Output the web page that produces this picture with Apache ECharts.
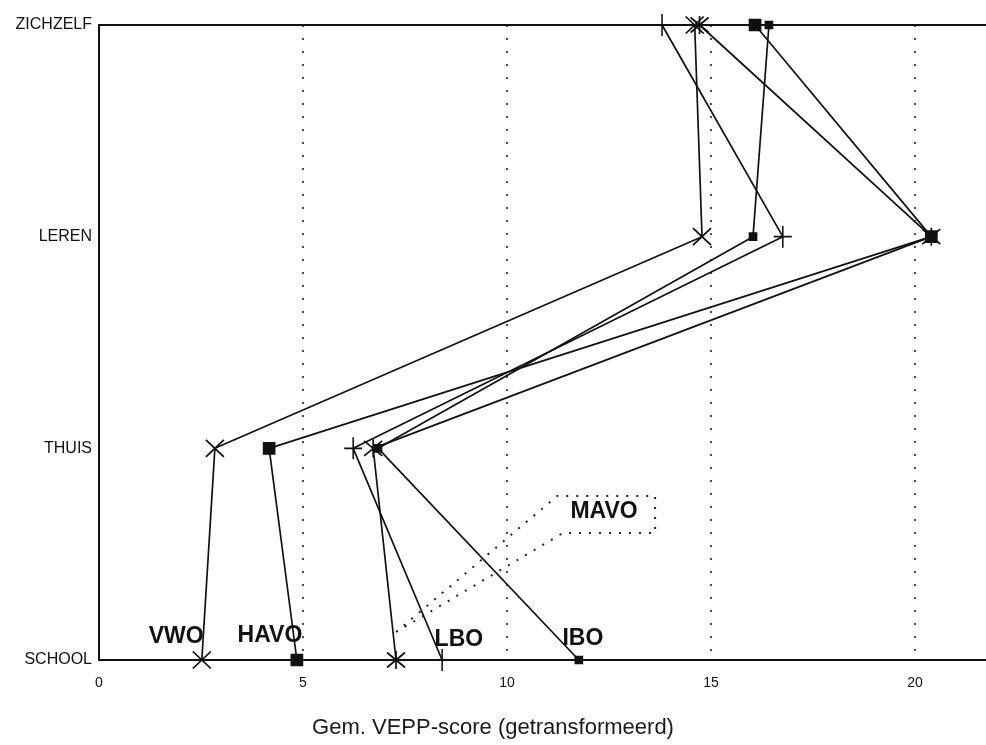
<!DOCTYPE html>
<html>
<head>
<meta charset="utf-8">
<script src="https://cdn.jsdelivr.net/npm/echarts@6/dist/echarts.min.js"></script>
<style>
  html, body { margin: 0; padding: 0; background: #fff; overflow: hidden; }
  #chart { width: 986px; height: 745px; }
</style>
</head>
<body>
<div id="chart"></div>
<script>
// categories on the vertical axis, bottom to top
const categories = ['SCHOOL', 'THUIS', 'LEREN', 'ZICHZELF']
// mean VEPP score per category, same order as categories
const vwo = [2.52, 2.84, 14.78, 14.6]
const havo = [4.85, 4.17, 20.4, 16.08]
const mavo = [7.28, 6.72, 20.4, 14.72]
const lbo = [8.41, 6.23, 16.76, 13.8]
const ibo = [11.76, 6.84, 16.03, 16.42]
const xMin = 0
const xMax = 22
const xStep = 5

const font = '"Liberation Sans", Arial, sans-serif'

// marker shapes
const crossSym = 'path://M0,0L10,10M10,0L0,10'
const starSym = 'path://M0,0L10,10M10,0L0,10M5,-1L5,11'
const plusSym = 'path://M0,6L10,6M5,0L5,12'

function pts (values) {
  return values.map((v, i) => [v, i])
}

function lineSeries (name, values, symbol, size) {
  return {
    name: name,
    type: 'line',
    data: pts(values),
    symbol: symbol,
    symbolSize: size,
    showSymbol: true,
    lineStyle: { color: '#111', width: 1.7 },
    itemStyle: { color: '#111', borderColor: '#111', borderWidth: 1.7 },
    emphasis: { disabled: true },
    animation: false
  }
}

let chart = echarts.init(document.getElementById('chart'))

let option = {
  animation: false,
  title: {
    text: 'Gem. VEPP-score (getransformeerd)',
    left: 'center',
    top: 712,
    textStyle: { fontFamily: font, fontSize: 22, fontWeight: 'normal', color: '#1a1a1a' }
  },
  // plot runs past the right edge of the page, as in the scan
  grid: { left: 99, top: 25, bottom: 85, width: 897.6, outerBoundsMode: 'none' },
  xAxis: [
    {
      type: 'value',
      min: xMin,
      max: xMax,
      interval: xStep,
      axisLine: { show: true, lineStyle: { color: '#111', width: 2 } },
      axisTick: { show: false },
      axisLabel: {
        margin: 16,
        fontFamily: font,
        fontSize: 14,
        color: '#111',
        formatter: v => (v % xStep === 0 ? String(v) : '')
      },
      splitLine: { show: true, lineStyle: { color: '#222', width: 1.6, type: [2, 11] } }
    },
    {
      type: 'value',
      position: 'top',
      min: xMin,
      max: xMax,
      axisLine: { show: true, lineStyle: { color: '#111', width: 2 } },
      axisTick: { show: false },
      axisLabel: { show: false },
      splitLine: { show: false }
    }
  ],
  yAxis: {
    type: 'value',
    min: 0,
    max: categories.length - 1,
    interval: 1,
    axisLine: { show: true, lineStyle: { color: '#111', width: 2 } },
    axisTick: { show: false },
    axisLabel: {
      margin: 7,
      fontFamily: font,
      fontSize: 16,
      color: '#111',
      formatter: v => categories[v] || ''
    },
    splitLine: { show: false }
  },
  series: [
    lineSeries('VWO', vwo, crossSym, [18, 17]),
    lineSeries('HAVO', havo, 'rect', 11),
    lineSeries('MAVO', mavo, starSym, [18, 18]),
    lineSeries('LBO', lbo, plusSym, [18, 22]),
    lineSeries('IBO', ibo, 'rect', 7)
  ]
}

chart.setOption(option)

// series names written inside the plot, in data coordinates
const tags = [
  { text: 'VWO', at: [1.89, 0.109] },
  { text: 'HAVO', at: [4.19, 0.113] },
  { text: 'LBO', at: [8.82, 0.094] },
  { text: 'IBO', at: [11.86, 0.099] },
  { text: 'MAVO', at: [12.38, 0.7] }
]
// dotted callout around MAVO pointing at its school value
const mavoBox = [[7.28, 0.132], [11.23, 0.775], [13.63, 0.775], [13.63, 0.6], [11.37, 0.6], [7.28, 0.132]]

const toPx = p => chart.convertToPixel({ xAxisIndex: 0, yAxisIndex: 0 }, p)

let graphic = tags.map(t => {
  let p = toPx(t.at)
  return {
    type: 'text',
    x: p[0],
    y: p[1],
    z: 100,
    style: {
      text: t.text,
      fontFamily: font,
      fontSize: 23,
      fontWeight: 'bold',
      fill: '#111',
      textAlign: 'center',
      textVerticalAlign: 'middle'
    }
  }
})
graphic.push({
  type: 'polyline',
  z: 100,
  shape: { points: mavoBox.map(toPx) },
  style: { stroke: '#222', lineWidth: 2, lineDash: [2, 8], fill: null }
})

chart.setOption({ graphic: graphic })
</script>
</body>
</html>
